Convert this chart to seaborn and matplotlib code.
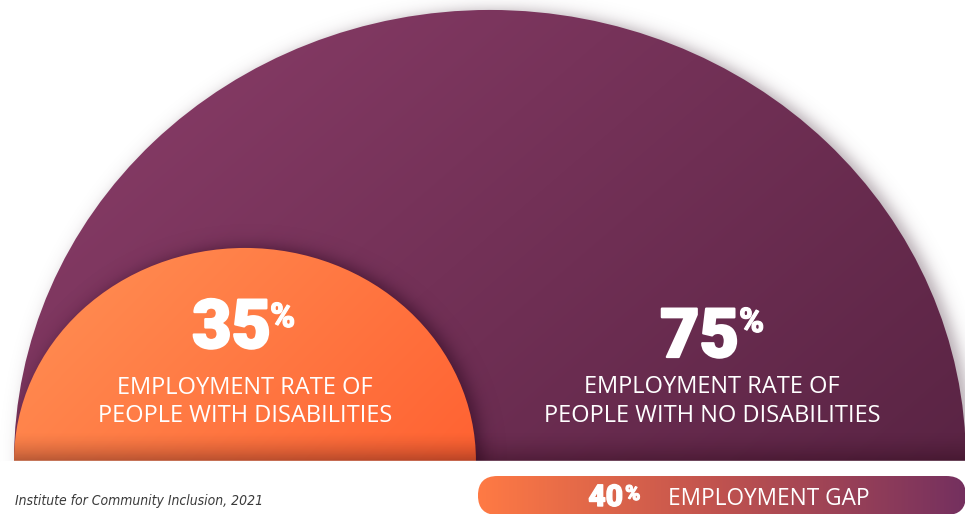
"""Employment rate infographic: nested half discs with a gap bar underneath."""

import numpy as np
import matplotlib
matplotlib.use("Agg")
import matplotlib.pyplot as plt
import matplotlib.font_manager as fm
import matplotlib.patheffects as pe
from matplotlib.patches import Ellipse, FancyBboxPatch, Rectangle
import seaborn as sns


# data (percent)
groups = ["PEOPLE WITH DISABILITIES", "PEOPLE WITH NO DISABILITIES"]
rates = [35, 75]
rate_title = "EMPLOYMENT RATE OF"
gap_title = "EMPLOYMENT GAP"
source = "Institute for Community Inclusion, 2021"

# layout, in pixels of the 965x514 canvas
W, H = 965, 514
BASE_Y = 461              # flat edge of both half discs
LEFT_X = 14               # both discs start at the same left edge
PX_X, PAD_X = 6.125, 16.6  # horizontal radius = PAD + PX * rate
PX_Y, PAD_Y = 5.95, 4.8    # vertical radius

PURPLE = ["#8c3e6a", "#5a2444"]
ORANGE = ["#ff9155", "#ff6232"]
PILL = ["#ff7a44", "#bf524f", "#74305f"]


def pick_font(family):
    """Return family name if installed, else None."""
    names = {f.name for f in fm.fontManager.ttflist}
    return family if family in names else None


def gradient(ax, colors, x0, x1, y0, y1, direction, clip, z):
    nx, ny = max(int(x1 - x0), 2), max(int(y1 - y0), 2)
    gx, gy = np.meshgrid(np.linspace(0, 1, nx), np.linspace(0, 1, ny))
    t = gx * direction[0] + gy * direction[1]
    t = (t - t.min()) / (t.max() - t.min())
    cmap = sns.blend_palette(colors, as_cmap=True)
    im = ax.imshow(t, cmap=cmap, extent=(x0, x1, y1, y0), origin="upper",
                   interpolation="bilinear", zorder=z)
    im.set_clip_path(clip)
    return im


YY, XX = np.mgrid[0:H, 0:W] + 0.5


def soft_shadow(ax, cx, cy, a, b, dx, dy, soft, amax, rgb, z, clip=None):
    rn = np.hypot((XX - cx - dx) / a, (YY - cy - dy) / b)
    d = (rn - 1) * (a + b) / 2
    img = np.zeros((H, W, 4))
    img[..., :3] = rgb
    img[..., 3] = amax / (1 + np.exp(np.clip(d / soft, -50, 50)))
    im = ax.imshow(img, extent=(0, W, H, 0), origin="upper", zorder=z,
                   interpolation="bilinear")
    if clip is not None:
        im.set_clip_path(clip)


sns.set_theme(style="white")
plt.rcParams["font.family"] = ["Open Sans", "DejaVu Sans"]

fig = plt.figure(figsize=(W / 100, H / 100), dpi=100)
ax = fig.add_axes([0, 0, 1, 1])
ax.axis("off")

# disc geometry from the rates
radii = [(PAD_X + r * PX_X, PAD_Y + r * PX_Y) for r in rates]
centers = [LEFT_X + a for a, b in radii]

(a_o, b_o), (a_p, b_p) = radii
cx_o, cx_p = centers

purple_clip = Ellipse((cx_p, BASE_Y), 2 * a_p, 2 * b_p, transform=ax.transData)
orange_clip = Ellipse((cx_o, BASE_Y), 2 * a_o, 2 * b_o, transform=ax.transData)

# outer disc: drop shadow then gradient fill
soft_shadow(ax, cx_p, BASE_Y, a_p, b_p, 7, 0, 4.5, 0.42, (0.32, 0.22, 0.28), 1)
gradient(ax, PURPLE, cx_p - a_p, cx_p + a_p, BASE_Y - b_p, BASE_Y,
         (1.0, 0.55), purple_clip, 2)

# inner disc: dark shadow over the purple, then gradient fill
soft_shadow(ax, cx_o, BASE_Y, a_o, b_o, 6, -1, 5, 0.5, (0.12, 0.0, 0.08), 3,
            clip=purple_clip)
gradient(ax, ORANGE, cx_o - a_o, cx_o + a_o, BASE_Y - b_o, BASE_Y,
         (1.0, 0.45), orange_clip, 4)

# darkening towards the flat edge
ramp = np.zeros((H, W, 4))
tt = np.clip((YY - (BASE_Y - 30)) / 30, 0, 1) ** 1.6
ramp[..., :3] = (0.12, 0.0, 0.04)
ramp[..., 3] = 0.32 * tt
im = ax.imshow(ramp, extent=(0, W, H, 0), origin="upper", zorder=5)
im.set_clip_path(purple_clip)

# white band under the discs
ax.add_patch(Rectangle((0, BASE_Y), W, H - BASE_Y, color="white", zorder=6))

# gap bar spans from the inner disc edge to the outer disc edge
gap = rates[1] - rates[0]
pill_x0 = cx_o + a_o + 2
pill_x1 = cx_p + a_p
pill_y0, pill_h = 476, 39
pill = FancyBboxPatch((pill_x0, pill_y0), pill_x1 - pill_x0, pill_h,
                      boxstyle=f"round,pad=0,rounding_size={pill_h / 2}",
                      transform=ax.transData, facecolor="none", edgecolor="none")
ax.add_patch(pill)
gradient(ax, PILL, pill_x0, pill_x1, pill_y0, pill_y0 + pill_h, (1.0, 0.0), pill, 7)

# texts
heavy = [pe.withStroke(linewidth=1.6, foreground="white")]
num_kw = dict(family=["Roboto", "Lato", "DejaVu Sans"], fontweight="black",
              color="white", va="baseline", zorder=10)
lab_kw = dict(family=["Open Sans", "DejaVu Sans"], color="white",
              va="baseline", zorder=10)
pct_fx = [pe.withStroke(linewidth=0.8, foreground="white")]

ax.text(271, 348, f"{rates[0]}", ha="right", fontsize=49, path_effects=heavy, **num_kw)
ax.text(270, 327, "%", ha="left", fontsize=24.5, path_effects=pct_fx, **num_kw)
ax.text(245, 394, rate_title, ha="center", fontsize=17, **lab_kw)
ax.text(245, 422, groups[0], ha="center", fontsize=17, **lab_kw)

ax.text(739, 357, f"{rates[1]}", ha="right", fontsize=49, path_effects=heavy, **num_kw)
ax.text(739, 332, "%", ha="left", fontsize=24.5, path_effects=pct_fx, **num_kw)
ax.text(712, 393, rate_title, ha="center", fontsize=17, **lab_kw)
ax.text(712, 422, groups[1], ha="center", fontsize=17, **lab_kw)

ax.text(623, 506, f"{gap}", ha="right", fontsize=21.5,
        path_effects=[pe.withStroke(linewidth=1.0, foreground="white")], **num_kw)
ax.text(625, 500, "%", ha="left", fontsize=15, path_effects=pct_fx, **num_kw)
ax.text(668, 505, gap_title, ha="left", fontsize=16.3, **lab_kw)

# source line, narrow italic face if one is available
narrow = pick_font("Liberation Sans Narrow")
if narrow:
    ax.text(15, 505, source, family=[narrow, "DejaVu Sans"], style="italic",
            fontsize=12, color="#3a3a3a", va="baseline", zorder=10)
else:
    ax.text(15, 505, source, family=["DejaVu Sans"], fontstretch="condensed",
            style="italic", fontsize=10, color="#3a3a3a", va="baseline", zorder=10)

ax.set_xlim(0, W)
ax.set_ylim(H, 0)
ax.set_aspect("auto")

fig.savefig("out.png", dpi=100, facecolor="white")
